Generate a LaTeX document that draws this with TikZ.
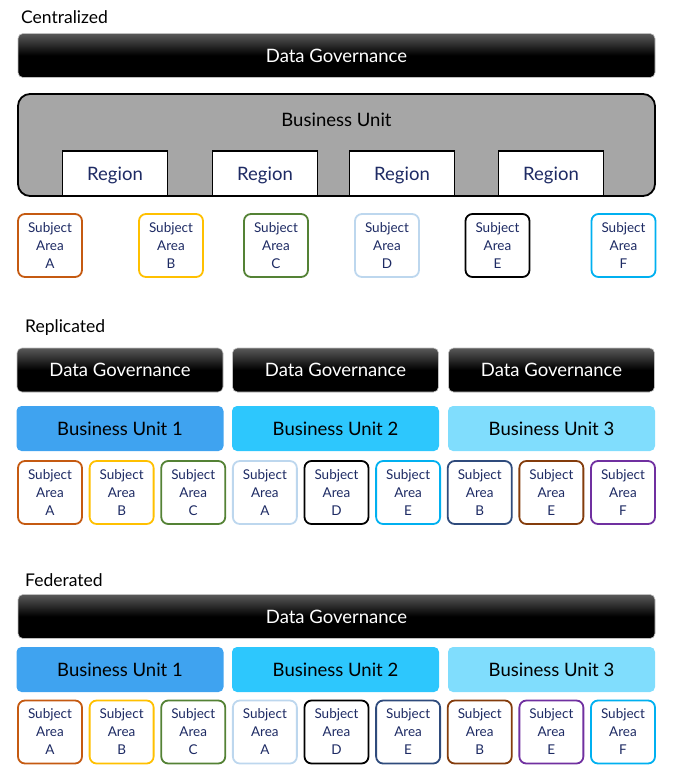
\documentclass[tikz,border=0pt]{standalone}
\usepackage{fontspec}
\setmainfont{Lato}
\usetikzlibrary{positioning}

\definecolor{saOrange}{HTML}{C55A11}
\definecolor{saGold}{HTML}{FFC000}
\definecolor{saGreen}{HTML}{548235}
\definecolor{saPale}{HTML}{BDD7EE}
\definecolor{saCyan}{HTML}{00B0F0}
\definecolor{saNavy}{HTML}{2F4B7C}
\definecolor{saBrown}{HTML}{843C0C}
\definecolor{saPurple}{HTML}{7030A0}
\definecolor{navyText}{HTML}{1E2B64}
\definecolor{unitGray}{HTML}{A6A6A6}
\definecolor{unitOne}{HTML}{3FA3F0}
\definecolor{unitTwo}{HTML}{2DC7FD}
\definecolor{unitThree}{HTML}{80DDFD}

\tikzset{
	heading/.style={anchor=west, inner sep=0pt, font=\fontsize{17.5}{20}\selectfont},
	govbar/.style={rounded corners=5pt, draw=black!25, line width=0.6pt, top color=black!65, bottom color=black, middle color=black, text=white, minimum height=44pt, inner sep=0pt, font=\fontsize{18.5}{22}\selectfont},
	unitbox/.style={rounded corners=5pt, minimum height=45pt, minimum width=207pt, inner sep=0pt, font=\fontsize{18.5}{22}\selectfont},
	regionbox/.style={draw, line width=1.8pt, fill=white, minimum width=105pt, minimum height=45pt, inner sep=0pt, text depth=0pt, text=navyText, font=\fontsize{18.5}{22}\selectfont},
	subjbox/.style={draw, line width=1.8pt, rounded corners=7pt, fill=white, minimum width=64pt, minimum height=63pt, inner sep=0pt, align=center, text=navyText, font=\fontsize{13.5}{18}\selectfont}
}

\begin{document}
\begin{tikzpicture}[x=1pt, y=-1pt]
	\useasboundingbox (0,0) rectangle (675,780);

	% Centralized
	\node[heading] (cenhead) at (21,17) {Centralized};
	\node[govbar, minimum width=637pt] (cengov) at (336.5,55.5) {Data Governance};
	\node[draw, line width=1.8pt, rounded corners=12pt, fill=unitGray, minimum width=637pt, minimum height=102pt, inner sep=0pt] (cenunit) at (336.5,145) {};
	\node[font=\fontsize{18.5}{22}\selectfont] (cenunitlabel) at (336.5,120) {Business Unit};
	\foreach \x [count=\i] in {115, 265, 402, 551}
	{
		\node[regionbox] (cenreg\i) at (\x,173.5) {Region};
	}
	\foreach \x/\lt/\col [count=\i] in {50/A/saOrange, 171/B/saGold, 276/C/saGreen, 387/D/saPale, 497.5/E/black, 623.5/F/saCyan}
	{
		\node[subjbox, draw=\col] (censa\i) at (\x,245.5) {Subject\\Area\\\lt};
	}

	% Replicated
	\node[heading] (rephead) at (25,328) {Replicated};
	\foreach \x/\col [count=\i] in {120/unitOne, 335.5/unitTwo, 551.5/unitThree}
	{
		\node[govbar, minimum width=206pt] (repgov\i) at (\x,370) {Data Governance};
		\node[unitbox, fill=\col] (repunit\i) at (\x,428.5) {Business Unit \i};
	}
	\foreach \lt/\col [count=\i] in {A/saOrange, B/saGold, C/saGreen, A/saPale, D/black, E/saCyan, B/saNavy, E/saBrown, F/saPurple}
	{
		\node[subjbox, draw=\col] (repsa\i) at ({50+71.625*(\i-1)},492.5) {Subject\\Area\\\lt};
	}

	% Federated
	\node[heading] (fedhead) at (25,580) {Federated};
	\node[govbar, minimum width=637pt] (fedgov) at (336.5,616.5) {Data Governance};
	\foreach \x/\col [count=\i] in {120/unitOne, 335.5/unitTwo, 551.5/unitThree}
	{
		\node[unitbox, fill=\col] (fedunit\i) at (\x,669.5) {Business Unit \i};
	}
	\foreach \lt/\col [count=\i] in {A/saOrange, B/saGold, C/saGreen, A/saPale, D/black, E/saNavy, B/saBrown, E/saPurple, F/saCyan}
	{
		\node[subjbox, draw=\col] (fedsa\i) at ({50+71.625*(\i-1)},732) {Subject\\Area\\\lt};
	}
\end{tikzpicture}
\end{document}
